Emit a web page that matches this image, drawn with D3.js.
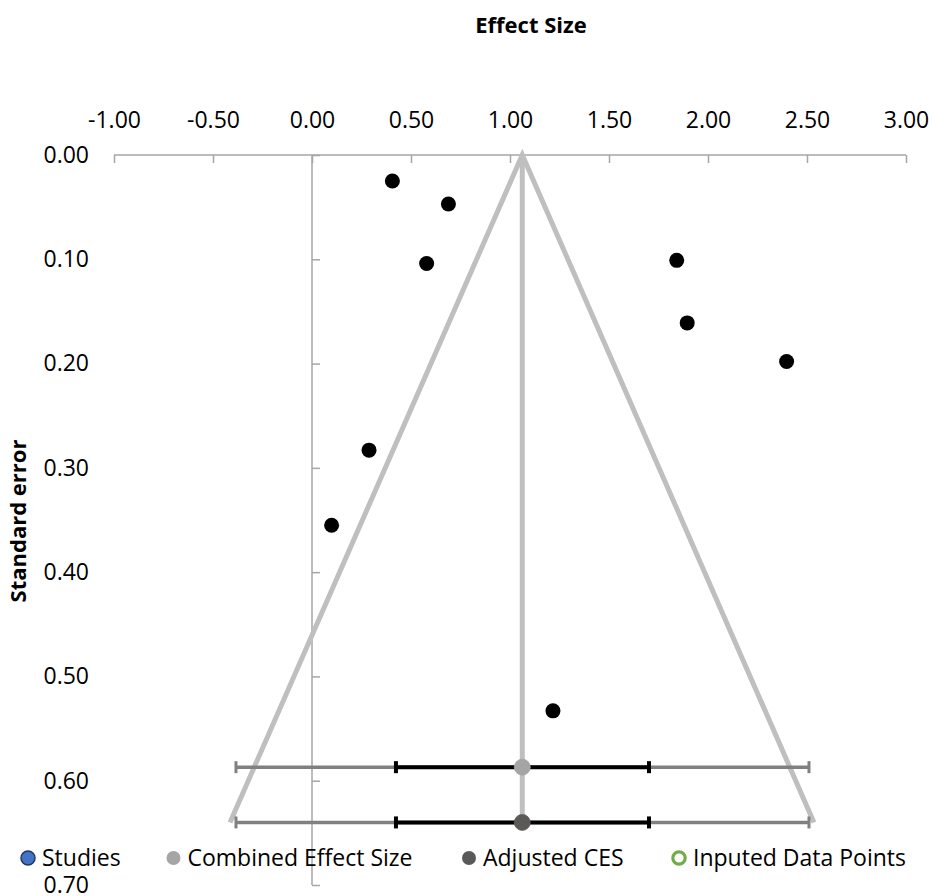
<!DOCTYPE html>
<html>
<head>
<meta charset="utf-8">
<script src="https://cdn.jsdelivr.net/npm/d3@7"></script>
<style>
  body { margin: 0; background: #fff; }
  text { font-family: "Open Sans", sans-serif; }
</style>
</head>
<body>
<div id="chart-area"></div>
<script>
// Data
var studyEffect = [0.406, 0.689, 0.579, 1.842, 1.895, 2.397, 0.288, 0.099, 1.217];
var studySE     = [0.025, 0.047, 0.104, 0.101, 0.161, 0.198, 0.283, 0.355, 0.533];

var combinedES = 1.062;
var funnelEffect = [-0.414, 1.062, 2.535];
var funnelSE     = [0.64, 0, 0.64];

var barLabels = ["Combined Effect Size", "Adjusted CES"];
var barSE     = [0.587, 0.64];
var barES     = [1.062, 1.062];
var outerLo   = [-0.384, -0.384];
var outerHi   = [2.510, 2.510];
var innerLo   = [0.424, 0.424];
var innerHi   = [1.702, 1.702];

var xTicks = [-1, -0.5, 0, 0.5, 1, 1.5, 2, 2.5, 3];
var yTicks = [0, 0.1, 0.2, 0.3, 0.4, 0.5, 0.6, 0.7];

var legendNames = ["Studies", "Combined Effect Size", "Adjusted CES", "Inputed Data Points"];

var width = 932, height = 896;

var svg = d3.select("#chart-area")
    .append("svg")
    .attr("width", width)
    .attr("height", height);

// Scales
var x = d3.scaleLinear().domain([-1, 3]).range([114, 906]);
var y = d3.scaleLinear().domain([0, 0.7]).range([155, 885]);

var axisColor = "#a6a6a6";
var fmt = function(d){ return d3.format(".2f")(d).replace("\u2212", "-"); };

// X axis (top)
var xAxis = svg.append("g")
    .attr("transform", "translate(0," + y(0) + ")")
    .call(d3.axisTop(x).tickValues(xTicks).tickSize(-8).tickPadding(27)
        .tickFormat(fmt));

// Y axis at effect = 0
var yAxis = svg.append("g")
    .attr("transform", "translate(" + x(0) + ",0)")
    .call(d3.axisLeft(y).tickValues(yTicks).tickSize(-8).tickPadding(x(0) - 89)
        .tickFormat(fmt));

[xAxis, yAxis].forEach(function(a){
    a.select(".domain").attr("stroke", axisColor).attr("stroke-width", 1.5)
    a.selectAll(".tick line").attr("stroke", axisColor).attr("stroke-width", 1.5);
    a.selectAll(".tick text")
        .attr("fill", "#000")
        .attr("font-size", "23px")
        .attr("font-family", "Open Sans, sans-serif");
});
// plain domain lines without outer ticks
xAxis.select(".domain").attr("d", "M" + x(-1) + ",0H" + x(3));
yAxis.select(".domain").attr("d", "M0," + y(0) + "V" + y(0.7));

// Titles
svg.append("text")
    .attr("x", 531).attr("y", 33)
    .attr("text-anchor", "middle")
    .attr("font-size", "22px").attr("font-weight", "bold")
    .text("Effect Size");
svg.append("text")
    .attr("transform", "translate(26,521) rotate(-90)")
    .attr("text-anchor", "middle")
    .attr("font-size", "22px").attr("font-weight", "bold")
    .text("Standard error");

// Funnel
var funnelData = funnelEffect.map(function(d, i){ return [d, funnelSE[i]]; });
var line = d3.line()
    .x(function(d){ return x(d[0]); })
    .y(function(d){ return y(d[1]); });
svg.append("path")
    .datum(funnelData)
    .attr("d", line)
    .attr("fill", "none")
    .attr("stroke", "#bfbfbf")
    .attr("stroke-width", 5)
    .attr("stroke-linejoin", "miter");
svg.append("path")
    .datum([[combinedES, 0], [combinedES, barSE[1]]])
    .attr("d", line)
    .attr("fill", "none")
    .attr("stroke", "#bfbfbf")
    .attr("stroke-width", 5);

// Error bars
var bars = barSE.map(function(se, i){
    return { se: se, es: barES[i], olo: outerLo[i], ohi: outerHi[i], ilo: innerLo[i], ihi: innerHi[i], name: barLabels[i] };
});
var bar = svg.selectAll(".ebar").data(bars).enter().append("g").attr("class", "ebar");
bar.append("line")
    .attr("x1", function(d){ return x(d.olo); })
    .attr("x2", function(d){ return x(d.ohi); })
    .attr("y1", function(d){ return y(d.se); })
    .attr("y2", function(d){ return y(d.se); })
    .attr("stroke", "#808080").attr("stroke-width", 3.5);
bar.selectAll(".ocap")
    .data(function(d){ return [[d.olo, d.se], [d.ohi, d.se]]; })
    .enter().append("line")
    .attr("x1", function(d){ return x(d[0]); })
    .attr("x2", function(d){ return x(d[0]); })
    .attr("y1", function(d){ return y(d[1]) - 6; })
    .attr("y2", function(d){ return y(d[1]) + 6; })
    .attr("stroke", "#808080").attr("stroke-width", 3);
bar.append("line")
    .attr("x1", function(d){ return x(d.ilo); })
    .attr("x2", function(d){ return x(d.ihi); })
    .attr("y1", function(d){ return y(d.se); })
    .attr("y2", function(d){ return y(d.se); })
    .attr("stroke", "#000").attr("stroke-width", 4);
bar.selectAll(".icap")
    .data(function(d){ return [[d.ilo, d.se], [d.ihi, d.se]]; })
    .enter().append("line")
    .attr("x1", function(d){ return x(d[0]); })
    .attr("x2", function(d){ return x(d[0]); })
    .attr("y1", function(d){ return y(d[1]) - 6; })
    .attr("y2", function(d){ return y(d[1]) + 6; })
    .attr("stroke", "#000").attr("stroke-width", 4);
bar.append("circle")
    .attr("cx", function(d){ return x(d.es); })
    .attr("cy", function(d){ return y(d.se); })
    .attr("r", 8)
    .attr("fill", function(d, i){ return i === 0 ? "#a5a5a5" : "#595959"; })
    .attr("stroke", function(d, i){ return i === 0 ? "#a5a5a5" : "#6b5a50"; })
    .attr("stroke-width", 0.8);

// Studies
svg.selectAll(".study")
    .data(studyEffect)
    .enter().append("circle")
    .attr("class", "study")
    .attr("cx", function(d){ return x(d); })
    .attr("cy", function(d, i){ return y(studySE[i]); })
    .attr("r", 7.5)
    .attr("fill", "#000");

// Legend
var legendX = [28, 173.5, 469, 679];
var legendStyle = [
    { fill: "#4472c4", stroke: "#203864", sw: 1.5 },
    { fill: "#a5a5a5", stroke: "#a5a5a5", sw: 0 },
    { fill: "#595959", stroke: "#595959", sw: 0 },
    { fill: "#fff", stroke: "#70ad47", sw: 3.2 }
];
var legend = svg.selectAll(".legend")
    .data(legendNames)
    .enter().append("g")
    .attr("class", "legend")
    .attr("transform", function(d, i){ return "translate(" + legendX[i] + ",858)"; });
legend.append("circle")
    .attr("r", function(d, i){ return i === 3 ? 6.2 : 7; })
    .attr("fill", function(d, i){ return legendStyle[i].fill; })
    .attr("stroke", function(d, i){ return legendStyle[i].stroke; })
    .attr("stroke-width", function(d, i){ return legendStyle[i].sw; });
legend.append("text")
    .attr("x", 14)
    .attr("dy", "0.35em")
    .attr("font-size", "23px")
    .text(function(d){ return d; });
</script>
</body>
</html>
